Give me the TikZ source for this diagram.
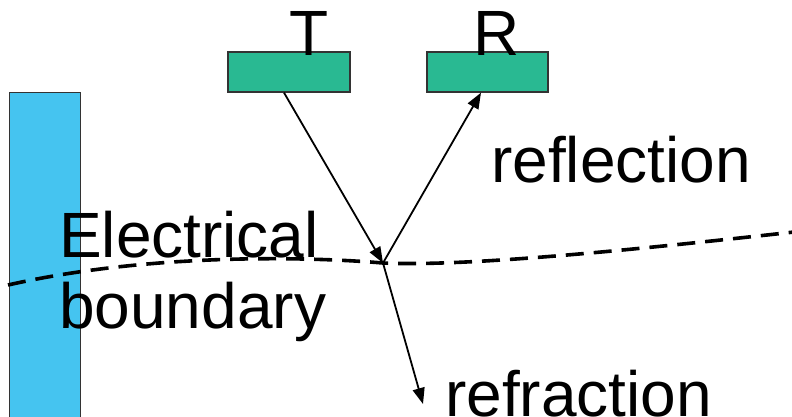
\documentclass[tikz,border=0pt]{standalone}
\usepackage{fontspec}
\setmainfont{Liberation Sans}
\usetikzlibrary{arrows.meta}
\definecolor{antenna}{RGB}{41,185,146}
\definecolor{wall}{RGB}{69,196,240}
\tikzset{
  box/.style={draw=black!80, line width=1.3pt, rectangle, inner sep=0pt},
  lbl/.style={inner sep=0pt, font=\fontsize{64}{72}\selectfont},
  ray/.style={line width=1.8pt, -{Triangle[length=16pt,width=12pt]}},
  boundary/.style={line width=3.6pt, dash pattern=on 18pt off 10pt}
}
\begin{document}
\begin{tikzpicture}[x=1pt, y=-1pt]
\useasboundingbox (0,0) rectangle (792,416);
\fill[white] (0,0) rectangle (792,416);

% wall on the left
\node[box, fill=wall, minimum width=71pt, minimum height=328pt, anchor=north west] (wall) at (9,92) {};

% transmitter and receiver
\node[box, fill=antenna, minimum width=122pt, minimum height=40pt] (T) at (289,72) {};
\node[box, fill=antenna, minimum width=121pt, minimum height=40pt] (R) at (487.5,72) {};
\node[lbl, anchor=base] (Tl) at (309,55) {T};
\node[lbl, anchor=base] (Rl) at (497,55) {R};

% boundary between the media
\coordinate (v) at (383,263);
\coordinate (bl) at (8,285);
\coordinate (br) at (794,232);
\draw[boundary] (bl) .. controls (145,254) and (300,256) .. (v)
                     .. controls (470,267) and (650,248) .. (br);

% labels
\node[lbl, anchor=base west] (el) at (59,257) {Electrical};
\node[lbl, anchor=base west] (bd) at (59,328) {boundary};
\node[lbl, anchor=base west] (rfl) at (491,182) {reflection};
\node[lbl, anchor=base west] (rfr) at (445,416) {refraction};

% rays
\coordinate (rend) at (423,404);
\draw[ray] ([xshift=-5pt]T.south) -- (v);
\draw[ray] (v) -- ([xshift=-6.5pt]R.south);
\draw[ray] (v) -- (rend);
\end{tikzpicture}
\end{document}
